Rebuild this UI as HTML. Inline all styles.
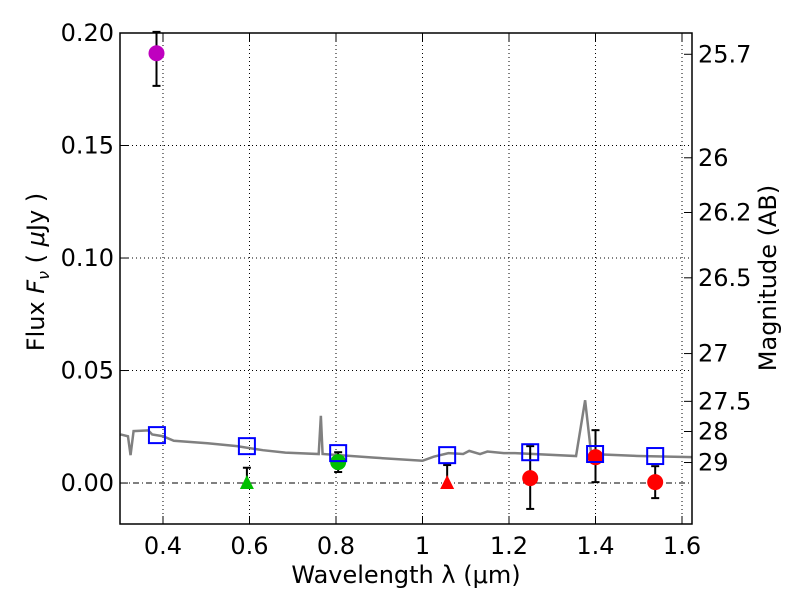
<!DOCTYPE html>
<html><head><meta charset="utf-8"><style>body{margin:0;background:#fff}svg text{font-family:"DejaVu Sans","Liberation Sans",sans-serif;font-size:24px;fill:#000}</style></head>
<body>
<svg id="c" width="800" height="600" xmlns="http://www.w3.org/2000/svg"></svg>
<script>
const specWl=[0.302,0.319,0.325,0.332,0.366,0.375,0.400,0.425,0.503,0.571,0.631,0.683,0.760,0.765,0.769,0.888,1.000,1.026,1.060,1.094,1.108,1.133,1.150,1.188,1.214,1.355,1.376,1.390,1.500,1.6231];
const specFlux=[0.0216,0.0208,0.0124,0.0231,0.0234,0.0216,0.0208,0.0188,0.0177,0.0164,0.0146,0.0135,0.0129,0.0299,0.0129,0.0113,0.0099,0.0117,0.0133,0.0129,0.0143,0.0129,0.0140,0.0133,0.0133,0.0120,0.0368,0.0129,0.0120,0.0115];
const modelWl=[0.386,0.594,0.805,1.057,1.249,1.399,1.538];
const modelFlux=[0.0213,0.0164,0.0133,0.0124,0.0137,0.0129,0.0120];
const obsWl=[0.385,0.594,0.805,1.057,1.249,1.400,1.538];
const obsFlux=[0.191,0,0.0093,0,0.0022,0.0115,0.0004];
const obsErrLo=[0.0145,0,0.0044,0,0.0137,0.0111,0.0071];
const obsErrHi=[0.0095,0.0068,0.0044,0.008,0.0142,0.012,0.0071];
const obsColor=['#bf00bf','#00bf00','#00bf00','red','red','red','red'];
const obsShape=['o','^','o','^','o','o','o'];
const xTicks=[0.4,0.6,0.8,1.0,1.2,1.4,1.6];
const xTickLabels=['0.4','0.6','0.8','1','1.2','1.4','1.6'];
const yTicks=[0,0.05,0.1,0.15,0.2];
const yTickLabels=['0.00','0.05','0.10','0.15','0.20'];
const magTicks=[25.7,26,26.2,26.5,27,27.5,28,29];

const L=120,R=692,T=33,B=524;
const xMin=0.3006,xMax=1.6231,yMin=-0.0182,yMax=0.2;
const X=v=>L+(v-xMin)/(xMax-xMin)*(R-L);
const Y=v=>B-(v-yMin)/(yMax-yMin)*(B-T);
const svg=document.getElementById('c');const NS='http://www.w3.org/2000/svg';
function mk(t,a,p){const e=document.createElementNS(NS,t);for(const k in a)e.setAttribute(k,a[k]);(p||svg).appendChild(e);return e;}
xTicks.forEach((v,i)=>{const g=mk('line',{x1:X(v),x2:X(v),y1:T,y2:B,stroke:'#000','stroke-dasharray':'1,3','stroke-width':1});

const t=mk('text',{x:X(v),y:B+30,'text-anchor':'middle'});t.textContent=xTickLabels[i];

mk('line',{x1:X(v),x2:X(v),y1:B,y2:B-8,stroke:'#000'});mk('line',{x1:X(v),x2:X(v),y1:T,y2:T+8,stroke:'#000'});});
yTicks.forEach((v,i)=>{if(v!==0){const g=mk('line',{x1:L,x2:R,y1:Y(v),y2:Y(v),stroke:'#000','stroke-dasharray':'1,3'});
}
const t=mk('text',{x:L-6,y:Y(v)+8,'text-anchor':'end'});t.textContent=yTickLabels[i];

mk('line',{x1:L,x2:L+8,y1:Y(v),y2:Y(v),stroke:'#000'});});
const z=mk('line',{x1:L,x2:R,y1:Y(0),y2:Y(0),stroke:'#000','stroke-dasharray':'6,3,1,3'});

magTicks.forEach(m=>{const f=Math.pow(10,(23.9-m)/2.5);const y=Y(f);
mk('line',{x1:R,x2:R-8,y1:y,y2:y,stroke:'#000'});
const t=mk('text',{x:R+6,y:y+8});t.textContent=String(m);
});
const sp=mk('polyline',{points:specWl.map((w,i)=>X(w)+','+Y(specFlux[i])).join(' '),fill:'none',stroke:'#808080','stroke-width':2.5});

obsWl.forEach((w,i)=>{const x=X(w),y=Y(obsFlux[i]);
const e=mk('g',{stroke:'#000','stroke-width':2});

const y1=Y(obsFlux[i]+obsErrHi[i]),y2=Y(obsFlux[i]-obsErrLo[i]);
mk('line',{x1:x,x2:x,y1:y1,y2:y2},e);mk('line',{x1:x-4,x2:x+4,y1:y1,y2:y1},e);if(obsErrLo[i]>0)mk('line',{x1:x-4,x2:x+4,y1:y2,y2:y2},e);
let m;if(obsShape[i]==='o')m=mk('circle',{cx:x,cy:y,r:8,fill:obsColor[i]});
else m=mk('polygon',{points:`${x},${y-8} ${x-7},${y+6} ${x+7},${y+6}`,fill:obsColor[i]});
});
modelWl.forEach((w,i)=>{const r=mk('rect',{x:X(w)-8,y:Y(modelFlux[i])-8,width:16,height:16,fill:'none',stroke:'#0000ff','stroke-width':2});
});
const fr=mk('rect',{x:L,y:T,width:R-L,height:B-T,fill:'none',stroke:'#000','stroke-width':1.5});

let t=mk('text',{x:406,y:583,'text-anchor':'middle'});t.textContent='Wavelength  λ (μm)';

t=mk('text',{x:0,y:0,'text-anchor':'middle',transform:'translate(44,272) rotate(-90)'});
t.innerHTML='Flux  <tspan font-style="italic">F</tspan><tspan font-style="italic" font-size="16" dy="5">ν</tspan><tspan dy="-5">  ( </tspan><tspan font-style="italic">μ</tspan>Jy )';

t=mk('text',{x:0,y:0,'text-anchor':'middle',transform:'translate(776,278) rotate(-90)'});t.textContent='Magnitude (AB)';

</script></body></html>
